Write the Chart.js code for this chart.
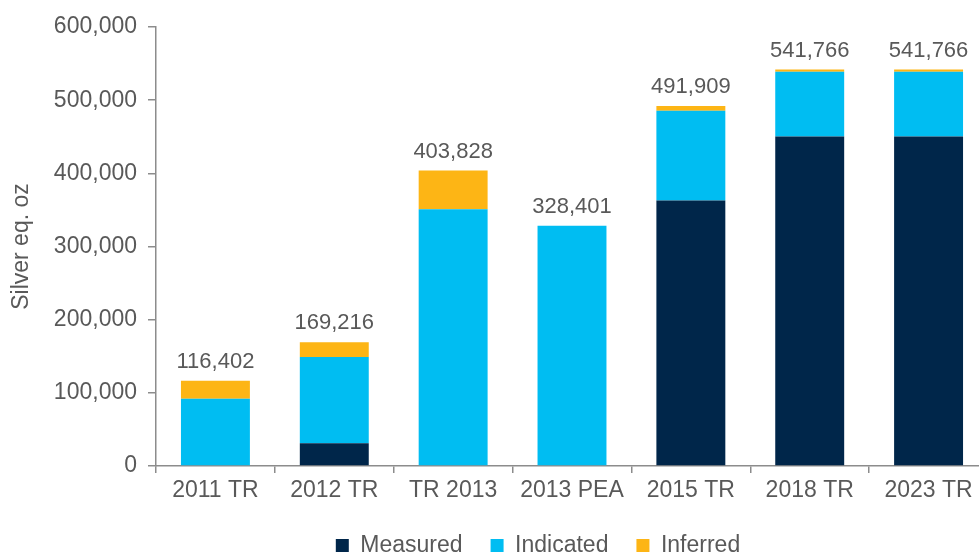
<!DOCTYPE html>
<html>
<head>
<meta charset="utf-8">
<script src="https://cdn.jsdelivr.net/npm/chart.js@4/dist/chart.umd.min.js"></script>
<style>
html,body{margin:0;padding:0;background:#fff;overflow:hidden;}
#wrap{width:988px;height:567px;position:relative;}
</style>
</head>
<body>
<div id="wrap"><canvas id="c"></canvas></div>
<script>
const categories = ["2011 TR","2012 TR","TR 2013","2013 PEA","2015 TR","2018 TR","2023 TR"];
const measured  = [0, 31000, 0, 0, 363000, 450500, 450500];
const indicated = [92000, 118000, 351000, 328401, 122400, 88266, 88266];
const inferred  = [24402, 20216, 52828, 0, 6509, 3000, 3000];
const yTicks = [0,100000,200000,300000,400000,500000,600000];

const FONT = "'Liberation Sans', Arial, sans-serif";
const GREY = "#595959";
const AXIS = "#8c8c8c";

const totalsPlugin = {
  id: 'totals',
  afterDatasetsDraw(chart) {
    const ctx = chart.ctx;
    const y = chart.scales.y;
    const meta = chart.getDatasetMeta(0);
    ctx.save();
    ctx.font = "22px " + FONT;
    ctx.fillStyle = GREY;
    ctx.textAlign = 'center';
    ctx.textBaseline = 'alphabetic';
    categories.forEach((c, i) => {
      const total = measured[i] + indicated[i] + inferred[i];
      const x = meta.data[i].x;
      ctx.fillText(total.toLocaleString('en-US'), x, y.getPixelForValue(total) - 13);
    });
    ctx.restore();
  }
};

const legendShift = {
  id: 'legendShift',
  afterLayout(chart) {
    const lg = chart.legend;
    if (lg) { lg.left += 88; }
  }
};

new Chart(document.getElementById('c'), {
  type: 'bar',
  data: {
    labels: categories,
    datasets: [
      {label: 'Measured', data: measured, backgroundColor: '#00264A'},
      {label: 'Indicated', data: indicated, backgroundColor: '#00BDF2'},
      {label: 'Inferred', data: inferred, backgroundColor: '#FDB515'}
    ]
  },
  options: {
    responsive: true,
    maintainAspectRatio: false,
    animation: false,
    layout: {padding: {top: 27, right: 0, left: 0, bottom: 0}},
    datasets: {bar: {categoryPercentage: 1, barPercentage: 0.58}},
    plugins: {
      legend: {
        position: 'bottom',
        labels: {
          font: {size: 23, family: FONT},
          color: GREY,
          boxWidth: 13, boxHeight: 13,
          padding: 28
        }
      },
      tooltip: {enabled: false}
    },
    scales: {
      x: {
        stacked: true,
        afterFit(scale) { scale.height = 40; },
        grid: {display: true, drawOnChartArea: false, drawTicks: true, tickLength: 7, offset: true, color: AXIS, lineWidth: 1.5},
        border: {display: true, color: AXIS, width: 1.5},
        ticks: {font: {size: 23, family: FONT}, color: GREY, padding: 4, maxRotation: 0}
      },
      y: {
        stacked: true,
        min: 0, max: 600000,
        afterFit(scale) { scale.width = 156; },
        afterBuildTicks(scale) { scale.ticks = yTicks.map(v => ({value: v})); },
        grid: {display: true, drawOnChartArea: false, drawTicks: true, tickLength: 8, color: AXIS, lineWidth: 1.5},
        border: {display: true, color: AXIS, width: 1.5},
        ticks: {font: {size: 23, family: FONT}, color: GREY, padding: 11,
          callback: v => v.toLocaleString('en-US')},
        title: {display: true, text: 'Silver eq. oz', font: {size: 23, family: FONT}, color: GREY, padding: {top: 8, bottom: 0}}
      }
    }
  },
  plugins: [totalsPlugin, legendShift]
});
</script>
</body>
</html>
